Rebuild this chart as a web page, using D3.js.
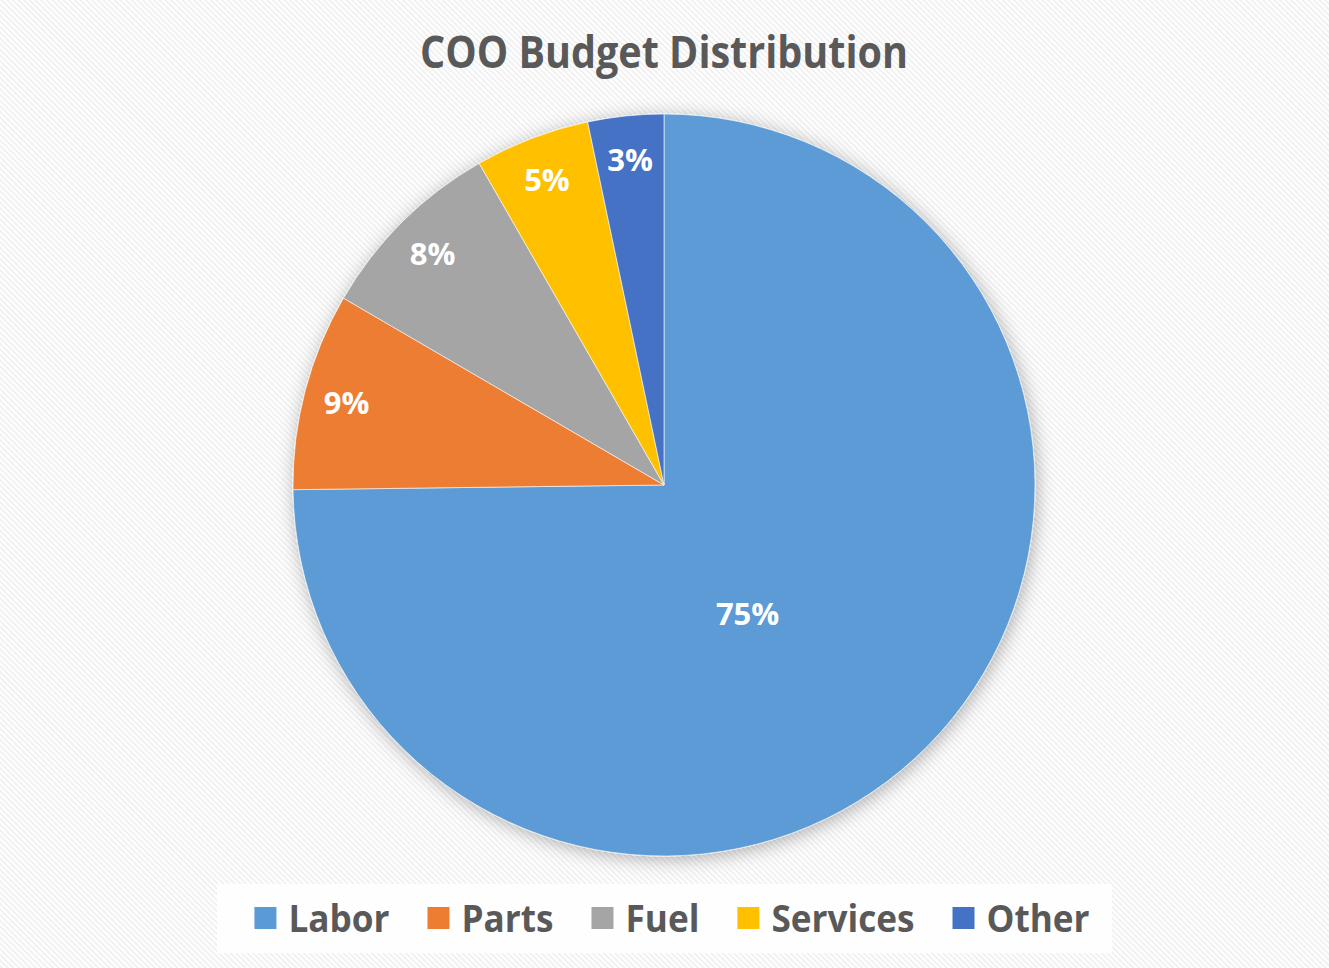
<!DOCTYPE html>
<html>
<head>
<meta charset="utf-8">
<script src="https://cdn.jsdelivr.net/npm/d3@7"></script>
<style>
  body { margin: 0; background: #fff; }
  svg { display: block; }
</style>
</head>
<body>
<div id="chart"></div>
<script>
// values (percent of budget)
var categories = ["Labor", "Parts", "Fuel", "Services", "Other"];
var values = [74.8, 8.6, 8.3, 5.0, 3.3];
var colors = ["#5B9BD5", "#ED7D31", "#A5A5A5", "#FFC000", "#4472C4"];
var chartTitle = "COO Budget Distribution";

var width = 1329, height = 968;
var cx = 664, cy = 485, r = 371;

var svg = d3.select("#chart").append("svg")
	.attr("width", width)
	.attr("height", height);

var defs = svg.append("defs");

// diagonal stripe background
var pat = defs.append("pattern")
	.attr("id", "stripes")
	.attr("patternUnits", "userSpaceOnUse")
	.attr("width", 4)
	.attr("height", 4)
	.attr("patternTransform", "rotate(-45)");
pat.append("rect").attr("width", 4).attr("height", 4).attr("fill", "#ffffff");
pat.append("rect").attr("width", 2).attr("height", 4).attr("fill", "#f1f1f1");

var shadow = defs.append("filter")
	.attr("id", "shadow")
	.attr("x", "-10%").attr("y", "-10%")
	.attr("width", "120%").attr("height", "120%");
shadow.append("feDropShadow")
	.attr("dx", 2).attr("dy", 3)
	.attr("stdDeviation", 9)
	.attr("flood-color", "#000")
	.attr("flood-opacity", 0.3);

svg.append("rect")
	.attr("width", width)
	.attr("height", height)
	.attr("fill", "url(#stripes)");

// title
svg.append("text")
	.attr("x", cx)
	.attr("y", 68)
	.attr("text-anchor", "middle")
	.attr("font-family", "'Open Sans', sans-serif")
	.attr("font-weight", "bold")
	.attr("font-size", 44)
	.attr("fill", "#595959")
	.attr("textLength", 488)
	.attr("lengthAdjust", "spacingAndGlyphs")
	.text(chartTitle);

var data = categories.map(function(c, i) { return {name: c, value: values[i], color: colors[i]}; });

var pie = d3.pie()
	.value(function(d) { return d.value; })
	.sort(null);

var arc = d3.arc()
	.innerRadius(0)
	.outerRadius(r);

var g = svg.append("g")
	.attr("transform", "translate(" + cx + "," + cy + ")");

var slices = g.append("g").attr("filter", "url(#shadow)");

slices.selectAll("path")
	.data(pie(data))
	.enter()
	.append("path")
	.attr("d", arc)
	.attr("fill", function(d) { return d.data.color; })
	.attr("stroke", "#ffffff")
	.attr("stroke-opacity", 0.6)
	.attr("stroke-width", 1);

// data labels: small slices near the rim, the big one further in (best fit)
function labelPos(d) {
	var a = (d.startAngle + d.endAngle) / 2;
	var rr = r * 0.885;
	if (d.endAngle - d.startAngle > Math.PI) {
		a = a + 0.21;
		rr = r * 0.41;
	}
	return [Math.sin(a) * rr, -Math.cos(a) * rr];
}

g.selectAll("text.lbl")
	.data(pie(data))
	.enter()
	.append("text")
	.attr("class", "lbl")
	.attr("transform", function(d) { return "translate(" + labelPos(d) + ")"; })
	.attr("text-anchor", "middle")
	.attr("dy", "0.42em")
	.attr("font-family", "'Open Sans', sans-serif")
	.attr("font-weight", "bold")
	.attr("font-size", 31)
	.attr("fill", "#ffffff")
	.text(function(d) { return Math.round(d.data.value) + "%"; });

// legend
svg.append("rect")
	.attr("x", 217)
	.attr("y", 884)
	.attr("width", 895)
	.attr("height", 69)
	.attr("fill", "#ffffff")
	.attr("fill-opacity", 0.85);

var squeeze = 0.95, gap = 38;
var legend = svg.append("g");
var items = legend.selectAll("g")
	.data(data)
	.enter()
	.append("g");

items.append("rect")
	.attr("width", 22)
	.attr("height", 22)
	.attr("y", 907)
	.attr("fill", function(d) { return d.color; });

items.append("text")
	.attr("x", 34)
	.attr("y", 932)
	.attr("font-family", "'Open Sans', sans-serif")
	.attr("font-weight", "bold")
	.attr("font-size", 37)
	.attr("fill", "#595959")
	.text(function(d) { return d.name; })
	.each(function(d) {
		d.w = this.getComputedTextLength() * squeeze;
		d3.select(this).attr("textLength", d.w).attr("lengthAdjust", "spacingAndGlyphs");
	});

var xPos = 0;
var offsets = [];
data.forEach(function(d) {
	offsets.push(xPos);
	xPos += 34 + d.w + gap;
});
var total = xPos - gap;
var start = 672 - total / 2;
items.attr("transform", function(d, i) { return "translate(" + (start + offsets[i]) + ",0)"; });
</script>
</body>
</html>
